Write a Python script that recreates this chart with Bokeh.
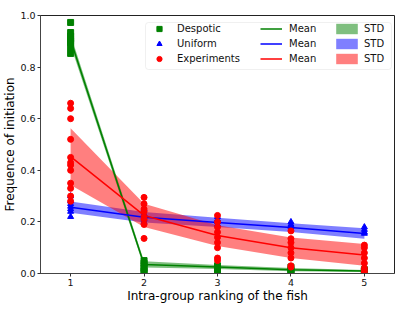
from bokeh.plotting import figure
from bokeh.models import (Legend, LegendItem, FixedTicker, PrintfTickFormatter,
                          ColumnDataSource, Range1d, BoxAnnotation)
from bokeh.embed import file_html
from bokeh.resources import INLINE

ranks = [1, 2, 3, 4, 5]

desp_pts = {
    1: [0.973, 0.934, 0.92, 0.91, 0.90, 0.895, 0.876, 0.853],
    2: [0.05, 0.04, 0.03, 0.02, 0.01, 0.005],
    3: [0.03, 0.02, 0.015, 0.01, 0.005],
    4: [0.025, 0.015, 0.01, 0.005],
    5: [0.015, 0.01, 0.005],
}
desp_mean = [0.905, 0.035, 0.025, 0.015, 0.01]
desp_std = [0.02, 0.012, 0.008, 0.006, 0.004]

unif_pts = {
    1: [0.30, 0.28, 0.27, 0.26, 0.25, 0.24, 0.22],
    2: [0.25, 0.23, 0.22, 0.21, 0.20],
    3: [0.22, 0.21, 0.20, 0.19],
    4: [0.20, 0.19, 0.185, 0.18],
    5: [0.18, 0.17, 0.16, 0.155],
}
unif_mean = [0.257, 0.218, 0.198, 0.178, 0.155]
unif_std = [0.022, 0.02, 0.018, 0.017, 0.02]

exp_pts = {
    1: [0.66, 0.64, 0.60, 0.52, 0.45, 0.43, 0.42, 0.40, 0.35, 0.33, 0.30, 0.28],
    2: [0.295, 0.27, 0.25, 0.24, 0.22, 0.21, 0.19, 0.136],
    3: [0.225, 0.20, 0.18, 0.16, 0.14, 0.12, 0.10, 0.06, 0.05],
    4: [0.165, 0.135, 0.12, 0.10, 0.08, 0.06, 0.03, 0.025],
    5: [0.11, 0.10, 0.08, 0.06, 0.04, 0.02, 0.01, 0.0],
}
exp_mean = [0.453, 0.225, 0.147, 0.10, 0.072]
exp_std = [0.11, 0.045, 0.04, 0.04, 0.042]

y_ticks = [0.0, 0.2, 0.4, 0.6, 0.8, 1.0]

p = figure(width=412, height=310, output_backend="svg", toolbar_location=None,
           x_range=Range1d(0.59, 5.41), y_range=Range1d(0, 1),
           min_border_left=40, min_border_right=18, min_border_top=15, min_border_bottom=37)
p.xgrid.visible = False
p.ygrid.visible = False
p.outline_line_color = "#222222"
p.outline_line_width = 1

def flat(d):
    xs, ys = [], []
    for k, v in d.items():
        xs += [k] * len(v)
        ys += v
    return xs, ys

series = [
    ("Despotic", desp_pts, desp_mean, desp_std, "#008000", "square"),
    ("Uniform", unif_pts, unif_mean, unif_std, "#0000ff", "triangle"),
    ("Experiments", exp_pts, exp_mean, exp_std, "#ff0000", "circle"),
]

marker_r, line_r, band_r = [], [], []
for name, pts, mean, std, col, mk in series:
    up = [m + s for m, s in zip(mean, std)]
    lo = [m - s for m, s in zip(mean, std)]
    src = ColumnDataSource(dict(x=ranks, m=mean, up=up, lo=lo))
    b = p.varea(x="x", y1="lo", y2="up", source=src, fill_color=col, fill_alpha=0.5)
    band_r.append(b)
for name, pts, mean, std, col, mk in series:
    src = ColumnDataSource(dict(x=ranks, m=mean))
    l = p.line(x="x", y="m", source=src, line_color=col, line_width=1.5)
    line_r.append(l)
for name, pts, mean, std, col, mk in series:
    xs, ys = flat(pts)
    s = p.scatter(xs, ys, marker=mk, size=6, fill_color=col, line_color=col)
    marker_r.append(s)

# legend frame (screen units relative to the plot frame)
box = BoxAnnotation(left=105, right=351, bottom=204, top=251,
                    left_units="screen", right_units="screen",
                    bottom_units="screen", top_units="screen",
                    fill_color="white", fill_alpha=0.8,
                    line_color="#cccccc", line_width=1, border_radius=3)
p.add_layout(box)

def make_legend(items, x, gw, standoff):
    return Legend(items=items, location=(x, 208), orientation="vertical",
                  label_text_font_size="10px", label_text_font="DejaVu Sans",
                  label_text_color="#111111",
                  glyph_height=13, glyph_width=gw, label_height=13,
                  label_standoff=standoff, spacing=2, padding=0, margin=0,
                  border_line_color=None, background_fill_alpha=0)

names = [s[0] for s in series]
leg_a = make_legend([LegendItem(label=n, renderers=[r]) for n, r in zip(names, marker_r)], 108, 22, 7)
leg_b = make_legend([LegendItem(label="Mean", renderers=[r]) for r in line_r], 220, 22, 7)
leg_c = make_legend([LegendItem(label="STD", renderers=[r]) for r in band_r], 293, 27, 4)
for lg in (leg_a, leg_b, leg_c):
    p.add_layout(lg)

p.xaxis.ticker = FixedTicker(ticks=ranks)
p.yaxis.ticker = FixedTicker(ticks=y_ticks)
p.yaxis.formatter = PrintfTickFormatter(format="%.1f")
for ax in (p.xaxis[0], p.yaxis[0]):
    ax.major_label_text_font_size = "9.5px"
    ax.major_label_text_font = "DejaVu Sans"
    ax.major_label_text_color = "#111111"
    ax.major_label_standoff = 2
    ax.axis_label_text_font_size = "12px"
    ax.axis_label_text_font = "DejaVu Sans"
    ax.axis_label_text_font_style = "normal"
    ax.axis_label_text_color = "#000000"
    ax.minor_tick_line_color = None
    ax.major_tick_in = 0
    ax.major_tick_out = 3
    ax.major_tick_line_color = "#333333"
    ax.axis_line_color = "#444444"
p.xaxis.axis_label = "Intra-group ranking of the fish"
p.yaxis.axis_label = "Frequence of initiation"
p.xaxis.axis_label_standoff = 0
p.yaxis.axis_label_standoff = 0

open("out.html", "w").write(file_html(p, INLINE))
